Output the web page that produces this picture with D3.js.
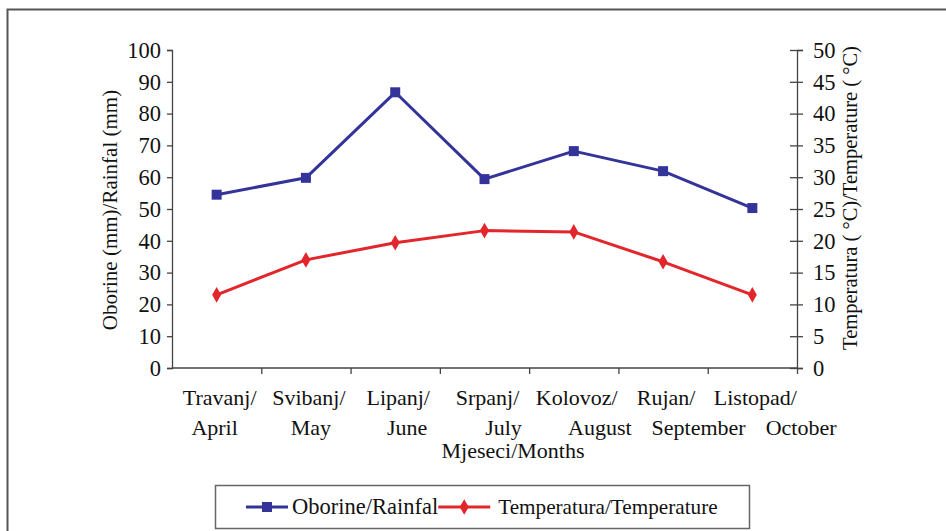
<!DOCTYPE html>
<html>
<head>
<meta charset="utf-8">
<script src="https://cdn.jsdelivr.net/npm/d3@7"></script>
<style>
  html, body { margin: 0; padding: 0; background: #fff; }
  svg { display: block; }
</style>
</head>
<body>
<svg id="chart" width="946" height="531"></svg>
<script>
// ---- data ----
const monthsLine1 = ["Travanj/", "Svibanj/", "Lipanj/", "Srpanj/", "Kolovoz/", "Rujan/", "Listopad/"];
const monthsLine2 = ["April", "May", "June", "July", "August", "September", "October"];
const rainfall = [54.5, 59.8, 86.7, 59.4, 68.2, 61.9, 50.3];
const temperature = [11.5, 17.0, 19.7, 21.6, 21.4, 16.7, 11.5];
const leftTicks = [0, 10, 20, 30, 40, 50, 60, 70, 80, 90, 100];
const rightTicks = [0, 5, 10, 15, 20, 25, 30, 35, 40, 45, 50];
const leftTitle = "Oborine (mm)/Rainfal (mm)";
const rightTitle = "Temperatura ( °C)/Temperature ( °C)";
const xTitle = "Mjeseci/Months";
const seriesNames = ["Oborine/Rainfal", "Temperatura/Temperature"];

// ---- layout ----
const FONT = "Liberation Serif";
const FS = 22;
const svg = d3.select("#chart");
const W = 946, H = 531;
const plot = { left: 172, right: 797, top: 50, bottom: 368 };
const blue = "#333399", red = "#e3262b";
const axisColor = "#444";
const textColor = "#111";

function styleText(sel, size) {
  return sel.style("font-family", FONT).style("font-size", (size || FS) + "px").attr("fill", textColor);
}

// outer frame (top + left visible)
svg.append("path")
  .attr("d", `M7.5,${H + 5} V9.5 H${W + 5}`)
  .attr("fill", "none").attr("stroke", "#555").attr("stroke-width", 2);

const idx = d3.range(monthsLine1.length);
const x = d3.scaleBand().domain(idx).range([plot.left, plot.right]).padding(0);
const cx = i => x(i) + x.bandwidth() / 2;
const yL = d3.scaleLinear().domain([0, 100]).range([plot.bottom, plot.top]);
const yR = d3.scaleLinear().domain([0, 50]).range([plot.bottom, plot.top]);

// left axis
const gL = svg.append("g").attr("transform", `translate(${plot.left},0)`)
  .call(d3.axisLeft(yL).tickValues(leftTicks).tickSize(5).tickPadding(6).tickFormat(d3.format("d")));
gL.select(".domain").attr("stroke", axisColor).attr("stroke-width", 1.3);
gL.selectAll(".tick line").attr("stroke", axisColor).attr("stroke-width", 1.3);
styleText(gL.selectAll(".tick text"), 22.5);

// right axis (ticks crossing)
const gR = svg.append("g").attr("transform", `translate(${plot.right},0)`)
  .call(d3.axisRight(yR).tickValues(rightTicks).tickSize(6).tickPadding(10).tickFormat(d3.format("d")));
gR.select(".domain").attr("stroke", axisColor).attr("stroke-width", 1.3);
gR.selectAll(".tick line").attr("x1", -7).attr("x2", 6).attr("stroke", axisColor).attr("stroke-width", 1.3);
styleText(gR.selectAll(".tick text"), 22.5);

// bottom axis with ticks at category boundaries
const xb = d3.scaleLinear().domain([0, monthsLine1.length]).range([plot.left, plot.right]);
const gB = svg.append("g").attr("transform", `translate(0,${plot.bottom})`)
  .call(d3.axisBottom(xb).tickValues(d3.range(1, monthsLine1.length + 1)).tickSize(6).tickFormat(""));
gB.select(".domain").attr("stroke", axisColor).attr("stroke-width", 1.3).attr("d", `M${plot.left},0H${plot.right}`);
gB.selectAll(".tick line").attr("stroke", axisColor).attr("stroke-width", 1.3);

// category labels line 1
styleText(svg.append("g").selectAll("text").data(idx).join("text")
  .attr("x", i => cx(i) + 3).attr("y", 405)
  .attr("text-anchor", "middle")
  .text(i => monthsLine1[i]));

// category labels line 2 (flow layout to avoid overlap)
const line2 = svg.append("g");
let prevEnd = -Infinity;
idx.forEach(i => {
  const t = styleText(line2.append("text").attr("y", 435).text(monthsLine2[i]));
  const w = t.node().getComputedTextLength();
  let left = cx(i) - w / 2 - 2 + i * 7;
  if (left < prevEnd + 20) left = prevEnd + 20;
  t.attr("x", left);
  prevEnd = left + w;
});

// x title
styleText(svg.append("text").attr("x", 513).attr("y", 458).attr("text-anchor", "middle").text(xTitle));

// y titles
styleText(svg.append("text").attr("transform", `translate(117,210) rotate(-90)`)
  .attr("text-anchor", "middle").text(leftTitle), 21);
styleText(svg.append("text").attr("transform", `translate(857,198) rotate(-90)`)
  .attr("text-anchor", "middle").text(rightTitle), 20.5);

// lines
const lineL = d3.line().x((d, i) => cx(i)).y(d => yL(d));
const lineR = d3.line().x((d, i) => cx(i)).y(d => yR(d));
svg.append("path").datum(rainfall).attr("d", lineL)
  .attr("fill", "none").attr("stroke", blue).attr("stroke-width", 3).attr("stroke-linejoin", "round");
svg.append("path").datum(temperature).attr("d", lineR)
  .attr("fill", "none").attr("stroke", red).attr("stroke-width", 3).attr("stroke-linejoin", "round");

const sq = d3.symbol().type(d3.symbolSquare).size(100);
const dm = d3.symbol().type(d3.symbolDiamond).size(70);
svg.append("g").selectAll("path").data(rainfall).join("path")
  .attr("transform", (d, i) => `translate(${cx(i)},${yL(d)})`)
  .attr("d", sq).attr("fill", blue);
svg.append("g").selectAll("path").data(temperature).join("path")
  .attr("transform", (d, i) => `translate(${cx(i)},${yR(d)})`)
  .attr("d", dm).attr("fill", red);

// legend
const lg = svg.append("g");
lg.append("rect").attr("x", 215.5).attr("y", 485.5).attr("width", 534).attr("height", 43)
  .attr("fill", "#fff").attr("stroke", "#666").attr("stroke-width", 1.5);
const ly = 507;
lg.append("line").attr("x1", 246).attr("x2", 288).attr("y1", ly).attr("y2", ly).attr("stroke", blue).attr("stroke-width", 3);
lg.append("path").attr("transform", `translate(267,${ly})`).attr("d", sq).attr("fill", blue);
const t1 = styleText(lg.append("text").attr("x", 292).attr("y", ly + 7).text(seriesNames[0]), 22.5);
const t1end = 292 + t1.node().getComputedTextLength();
lg.append("line").attr("x1", t1end).attr("x2", t1end + 52).attr("y1", ly).attr("y2", ly).attr("stroke", red).attr("stroke-width", 3);
lg.append("path").attr("transform", `translate(${t1end + 26},${ly})`).attr("d", dm).attr("fill", red);
styleText(lg.append("text").attr("x", t1end + 60).attr("y", ly + 7).text(seriesNames[1]), 21.2);
</script>
</body>
</html>
